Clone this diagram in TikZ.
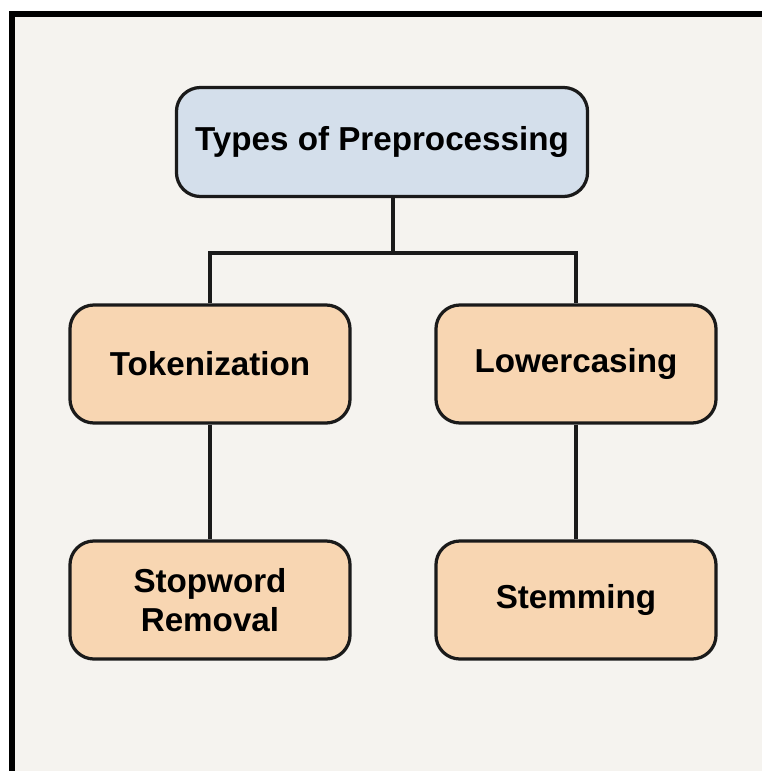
\documentclass[tikz,border=0pt]{standalone}
\usepackage{fontspec}
\setmainfont{Liberation Sans}
\usetikzlibrary{positioning}
\definecolor{ppfundo}{HTML}{F5F3EF}
\definecolor{ppazul}{HTML}{D4DFEB}
\definecolor{pplaranja}{HTML}{F8D6B2}
\definecolor{pptraco}{HTML}{1A1A1A}
\tikzset{
  ppraiz/.style={draw=pptraco, fill=ppazul, rounded corners=0.6cm, line width=2.3pt,
                 align=center, font=\fontsize{23.6}{28}\selectfont\bfseries, inner sep=0pt,
                 minimum width=10.275cm, minimum height=2.725cm},
  ppbloco/.style={draw=pptraco, fill=pplaranja, rounded corners=0.6cm, line width=2.3pt,
                 align=center, font=\fontsize{23.6}{28}\selectfont\bfseries, inner sep=0pt,
                 minimum width=7cm, minimum height=2.95cm},
  pplinha/.style={draw=pptraco, line width=2.4pt},
}
\begin{document}
\begin{tikzpicture}[x=0.025cm, y=-0.025cm]
        \useasboundingbox (0,0) rectangle (762,771);
        % ---------------- moldura ----------------
        \begin{scope}
        \clip (0,0) rectangle (762,771);
        \draw[line width=4.4pt, fill=ppfundo] (12,14) rectangle (800,820);
        \end{scope}
        % ---------------- caixas ----------------
        \node[ppraiz] (tipos) at (382,142) {Types of Preprocessing};
        \node[ppbloco] (token) at (210,364) {Tokenization};
        \node[ppbloco] (lower) at (576,364) {Lowercasing};
        \node[ppbloco] (stop) at (210,600) {Stopword\\ Removal};
        \node[ppbloco] (stem) at (576,600) {Stemming};
        \coordinate (ramo) at (393,253);
        % ---------------- linhas ----------------
        \draw[pplinha] (tipos.south -| ramo) -- (ramo);
        \draw[pplinha] (token.north) |- (ramo) -| (lower.north);
        \draw[pplinha] (token) -- (stop);
        \draw[pplinha] (lower) -- (stem);
\end{tikzpicture}
\end{document}
